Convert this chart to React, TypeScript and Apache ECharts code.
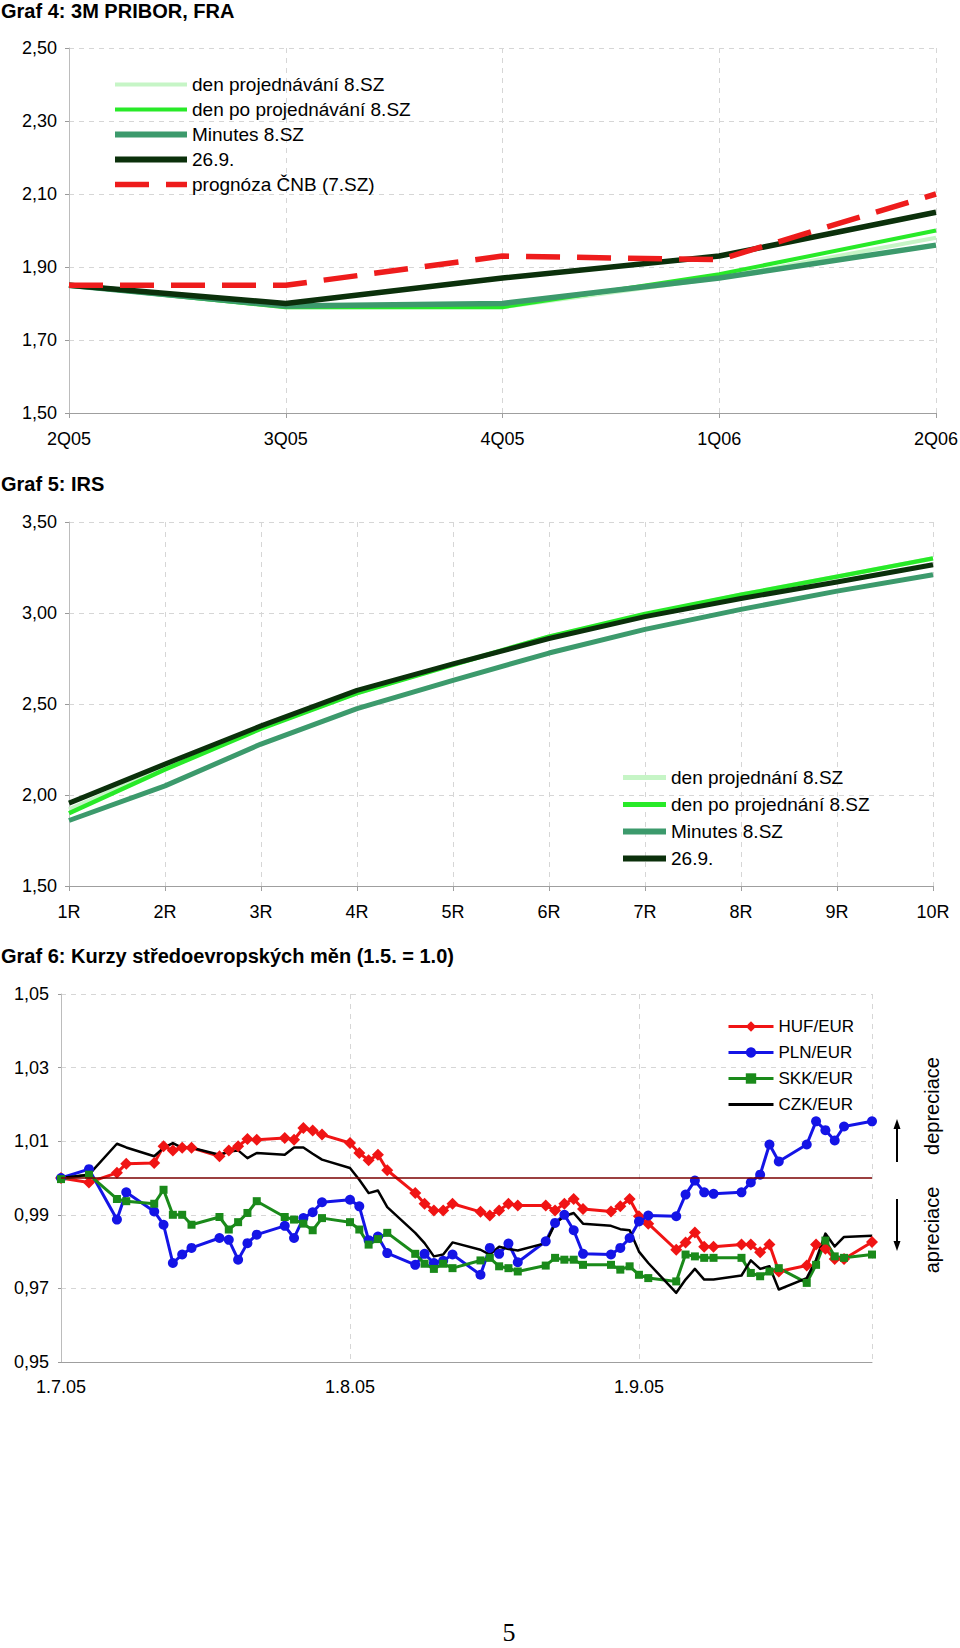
import React, { useEffect, useRef } from 'react';
import * as echarts from 'echarts';

// ---------- Graf 4: 3M PRIBOR, FRA ----------
const quarters = ['2Q05', '3Q05', '4Q05', '1Q06', '2Q06'];
const fraYTicks = [1.5, 1.7, 1.9, 2.1, 2.3, 2.5];
const fraDenProjednavani = [1.85, 1.79, 1.79, 1.87, 1.98];
const fraDenPo = [1.85, 1.79, 1.79, 1.88, 2.0];
const fraMinutes = [1.85, 1.793, 1.8, 1.87, 1.96];
const fra269 = [1.85, 1.8, 1.87, 1.93, 2.05];
const fraPrognoza = [1.85, 1.85, 1.93, 1.92, 2.1];

// ---------- Graf 5: IRS ----------
const tenors = ['1R', '2R', '3R', '4R', '5R', '6R', '7R', '8R', '9R', '10R'];
const irsYTicks = [1.5, 2.0, 2.5, 3.0, 3.5];
const irsDenProjednani = [1.92, 2.15, 2.37, 2.56, 2.72, 2.87, 2.99, 3.1, 3.2, 3.3];
const irsDenPo = [1.9, 2.14, 2.365, 2.56, 2.715, 2.87, 2.995, 3.1, 3.2, 3.3];
const irsMinutes = [1.86, 2.05, 2.28, 2.475, 2.63, 2.78, 2.91, 3.02, 3.12, 3.21];
const irs269 = [1.955, 2.17, 2.38, 2.575, 2.72, 2.86, 2.98, 3.08, 3.17, 3.265];

// ---------- Graf 6: Kurzy středoevropských měn ----------
const fxYTicks = [0.95, 0.97, 0.99, 1.01, 1.03, 1.05];
const fxDates = [
  '2005-07-01', '2005-07-04', '2005-07-07', '2005-07-08', '2005-07-11', '2005-07-12', '2005-07-13', '2005-07-14', '2005-07-15',
  '2005-07-18', '2005-07-19', '2005-07-20', '2005-07-21', '2005-07-22', '2005-07-25', '2005-07-26', '2005-07-27', '2005-07-28', '2005-07-29',
  '2005-08-01', '2005-08-02', '2005-08-03', '2005-08-04', '2005-08-05', '2005-08-08', '2005-08-09', '2005-08-10', '2005-08-11', '2005-08-12',
  '2005-08-15', '2005-08-16', '2005-08-17', '2005-08-18', '2005-08-19', '2005-08-22', '2005-08-23', '2005-08-24', '2005-08-25', '2005-08-26',
  '2005-08-29', '2005-08-30', '2005-08-31', '2005-09-01', '2005-09-02', '2005-09-05', '2005-09-06', '2005-09-07', '2005-09-08', '2005-09-09',
  '2005-09-12', '2005-09-13', '2005-09-14', '2005-09-15', '2005-09-16', '2005-09-19', '2005-09-20', '2005-09-21', '2005-09-22', '2005-09-23',
  '2005-09-26',
];
const hufEur = [
  1.0, 0.9988, 1.0014, 1.0039, 1.0041, 1.0086, 1.0075, 1.0082, 1.0082, 1.0059,
  1.0075, 1.0086, 1.0106, 1.0104, 1.0109, 1.0104, 1.0136, 1.0129, 1.0118, 1.0095,
  1.0068, 1.0048, 1.0063, 1.0021, 0.9959, 0.993, 0.9912, 0.9912, 0.993, 0.9908,
  0.9898, 0.9912, 0.993, 0.9925, 0.9925, 0.9912, 0.993, 0.9943, 0.9916, 0.9909,
  0.9923, 0.9943, 0.9896, 0.9876, 0.9805, 0.9825, 0.9852, 0.9813, 0.9813, 0.9819,
  0.9819, 0.9798, 0.9819, 0.9746, 0.9762, 0.9819, 0.9808, 0.978, 0.978, 0.9826,
];
const plnEur = [
  1.0, 1.0024, 0.9887, 0.9961, 0.9909, 0.9873, 0.9769, 0.9792, 0.981, 0.9837,
  0.9832, 0.9778, 0.9823, 0.9846, 0.987, 0.9837, 0.9891, 0.9907, 0.9934, 0.9941,
  0.9923, 0.9831, 0.9841, 0.9796, 0.9764, 0.9794, 0.9769, 0.9775, 0.9792, 0.9737,
  0.981, 0.9794, 0.9822, 0.9771, 0.9828, 0.9878, 0.99, 0.9858, 0.9794, 0.9792,
  0.981, 0.9837, 0.9882, 0.9898, 0.9896, 0.9955, 0.9993, 0.9961, 0.9957, 0.9961,
  0.9988, 1.0009, 1.0091, 1.0045, 1.0091, 1.0154, 1.013, 1.0102, 1.014, 1.0154,
];
const skkEur = [
  0.9997, 1.0009, 0.9943, 0.9937, 0.993, 0.9968, 0.99, 0.99, 0.9873, 0.9894,
  0.986, 0.988, 0.9905, 0.9937, 0.9894, 0.9887, 0.9876, 0.9858, 0.9891, 0.988,
  0.986, 0.9819, 0.9834, 0.9851, 0.9794, 0.9767, 0.9753, 0.9767, 0.9755, 0.9776,
  0.9783, 0.976, 0.9755, 0.9746, 0.9762, 0.9783, 0.9778, 0.9778, 0.9764, 0.9764,
  0.9751, 0.976, 0.9737, 0.9728, 0.9719, 0.9792, 0.9787, 0.9783, 0.9783, 0.9783,
  0.9742, 0.9733, 0.9746, 0.9755, 0.9715, 0.9764, 0.983, 0.9787, 0.9783, 0.9792,
];
const czkEur = [
  1.0, 1.0009, 1.0093, 1.0083, 1.0059, 1.0082, 1.0095, 1.0082, 1.0082, 1.0063,
  1.0072, 1.0075, 1.0054, 1.0068, 1.0063, 1.0083, 1.0083, 1.0066, 1.005, 1.0027,
  0.9995, 0.9959, 0.9966, 0.9921, 0.9851, 0.9823, 0.9787, 0.9792, 0.9825, 0.9805,
  0.9792, 0.9813, 0.9807, 0.9803, 0.9823, 0.9876, 0.9896, 0.9905, 0.9876, 0.987,
  0.9861, 0.9858, 0.98, 0.9769, 0.9688, 0.9724, 0.9753, 0.9724, 0.9724, 0.9735,
  0.9776, 0.9753, 0.976, 0.9697, 0.9728, 0.9778, 0.9849, 0.9814, 0.984, 0.9843,
];
const fxBaseline = 1.0;

// ---------- helpers ----------
const FONT = 'Liberation Sans, Arial, sans-serif';
const DAY = 86400000;
const startMs = Date.UTC(2005, 6, 1);
const dayOf = (s: string) => {
  const [y, m, d] = s.split('-').map(Number);
  return Math.round((Date.UTC(y, m - 1, d) - startMs) / DAY);
};
const comma2 = (v: number) => v.toFixed(2).replace('.', ',');
const dashedSplit = { show: true, lineStyle: { color: '#d6d6d6', type: [5, 5] as any, width: 1 } };
const gridBase = { containLabel: false, outerBoundsMode: 'none' } as any;

const valueY = (ticks: number[], labelSize: number) => ({
  type: 'value',
  min: ticks[0],
  max: ticks[ticks.length - 1],
  interval: ticks[1] - ticks[0],
  axisLine: { show: true, lineStyle: { color: '#bcbcbc', width: 1 } },
  axisTick: { show: true, length: 4, lineStyle: { color: '#9a9a9a' } },
  axisLabel: { color: '#000', fontFamily: FONT, fontSize: labelSize, margin: 12, formatter: comma2 },
  splitLine: dashedSplit,
});

const catX = (data: string[]) => ({
  type: 'category',
  data,
  boundaryGap: false,
  axisLine: { show: true, lineStyle: { color: '#9f9f9f', width: 1 } },
  axisTick: { show: true, length: 5, lineStyle: { color: '#9f9f9f' } },
  axisLabel: { color: '#000', fontFamily: FONT, fontSize: 18, margin: 17 },
  splitLine: dashedSplit,
});

const title = (text: string, y: number) => ({
  type: 'text',
  x: 1,
  y,
  style: { text, font: `bold 20px ${FONT}`, fill: '#000', align: 'left', verticalAlign: 'middle', textAlign: 'left', textVerticalAlign: 'middle' },
});

const C_LIGHT = '#c6f5c6';
const C_BRIGHT = '#28ea28';
const C_MIN = '#3c9a6c';
const C_DARK = '#0b300b';
const C_RED = '#ee1c1c';
const RED_DASH = [34, 17];

const lineS = (name: string, data: number[], color: string, width: number, extra: any = {}) => ({
  type: 'line',
  name,
  data,
  symbol: 'none',
  smooth: false,
  lineStyle: { color, width, cap: 'butt', join: 'round', ...(extra.lineStyle || {}) },
  itemStyle: { color },
  emphasis: { disabled: true },
});

const legItem = (name: string, color: string, width: number, type: any = 'solid') => ({
  name,
  itemStyle: { opacity: 0 },
  lineStyle: { color, width, type, cap: 'butt' },
});

const optionA: any = {
  animation: false,
  backgroundColor: '#fff',
  grid: { ...gridBase, left: 69, top: 48, width: 867, height: 365 },
  xAxis: catX(quarters),
  yAxis: valueY(fraYTicks, 18),
  legend: {
    orient: 'vertical',
    left: 112,
    top: 75,
    padding: 0,
    itemWidth: 72,
    itemHeight: 14,
    itemGap: 6,
    itemStyle: { opacity: 0 },
    textStyle: { fontSize: 19, fontFamily: FONT, color: '#000', lineHeight: 19 },
    data: [
      legItem('den projednávání 8.SZ', C_LIGHT, 4),
      legItem('den po projednávání 8.SZ', C_BRIGHT, 4),
      legItem('Minutes 8.SZ', C_MIN, 6),
      legItem('26.9.', C_DARK, 6),
      legItem('prognóza ČNB (7.SZ)', C_RED, 5.5, RED_DASH),
    ],
  },
  series: [
    lineS('den projednávání 8.SZ', fraDenProjednavani, C_LIGHT, 4),
    lineS('den po projednávání 8.SZ', fraDenPo, C_BRIGHT, 4),
    lineS('Minutes 8.SZ', fraMinutes, C_MIN, 5.5),
    lineS('26.9.', fra269, C_DARK, 5.5),
    lineS('prognóza ČNB (7.SZ)', fraPrognoza, C_RED, 5.5, { lineStyle: { type: RED_DASH } }),
  ],
  graphic: [title('Graf 4: 3M PRIBOR, FRA', 11)],
};

const optionB: any = {
  animation: false,
  backgroundColor: '#fff',
  grid: { ...gridBase, left: 69, top: 62, width: 864, height: 364 },
  xAxis: catX(tenors),
  yAxis: valueY(irsYTicks, 18),
  legend: {
    orient: 'vertical',
    left: 620,
    top: 308,
    padding: 0,
    itemWidth: 43,
    itemHeight: 14,
    itemGap: 8,
    itemStyle: { opacity: 0 },
    textStyle: { fontSize: 19, fontFamily: FONT, color: '#000', lineHeight: 19 },
    data: [
      legItem('den projednání 8.SZ', C_LIGHT, 5),
      legItem('den po projednání 8.SZ', C_BRIGHT, 5),
      legItem('Minutes 8.SZ', C_MIN, 6),
      legItem('26.9.', C_DARK, 6),
    ],
  },
  series: [
    lineS('den projednání 8.SZ', irsDenProjednani, C_LIGHT, 4.5),
    lineS('den po projednání 8.SZ', irsDenPo, C_BRIGHT, 4.5),
    lineS('Minutes 8.SZ', irsMinutes, C_MIN, 5),
    lineS('26.9.', irs269, C_DARK, 5),
  ],
  graphic: [title('Graf 5: IRS', 24)],
};

const fxSeries = (name: string, vals: number[], color: string, symbol: string, size: number, width: number, extra: any = {}) => ({
  type: 'line',
  name,
  data: fxDates.map((d, i) => [dayOf(d), vals[i]]),
  symbol,
  symbolSize: size,
  showSymbol: symbol !== 'none',
  showAllSymbol: true,
  lineStyle: { color, width, join: 'round' },
  itemStyle: { color, borderWidth: 0 },
  emphasis: { disabled: true },
  ...extra,
});

const lastDay = dayOf(fxDates[fxDates.length - 1]);

const C_HUF = '#f01414';
const C_PLN = '#1414e6';
const C_SKK = '#1a8a1a';
const C_CZK = '#000000';

const optionC: any = {
  animation: false,
  backgroundColor: '#fff',
  grid: { ...gridBase, left: 61, top: 64, width: 811, height: 368 },
  xAxis: {
    type: 'value',
    min: 0,
    max: lastDay,
    interval: 31,
    axisLine: { show: true, lineStyle: { color: '#9f9f9f', width: 1 } },
    axisTick: { show: false },
    axisLabel: {
      color: '#000',
      fontFamily: FONT,
      fontSize: 18,
      margin: 16,
      showMaxLabel: false,
      formatter: (v: number) => {
        const dt = new Date(startMs + Math.round(v) * DAY);
        if (dt.getUTCDate() !== 1) return '';
        return `${dt.getUTCDate()}.${dt.getUTCMonth() + 1}.05`;
      },
    },
    splitLine: dashedSplit,
  },
  yAxis: { ...valueY(fxYTicks, 18), axisTick: { show: true, length: 3, lineStyle: { color: '#9a9a9a' } } },
  legend: {
    orient: 'vertical',
    left: 727,
    top: 88,
    padding: 0,
    itemWidth: 45,
    itemHeight: 13,
    itemGap: 9,
    textStyle: { fontSize: 17, fontFamily: FONT, color: '#000', lineHeight: 17 },
    data: [
      { name: 'HUF/EUR', lineStyle: { color: C_HUF, width: 3 } },
      { name: 'PLN/EUR', lineStyle: { color: C_PLN, width: 3 } },
      { name: 'SKK/EUR', lineStyle: { color: C_SKK, width: 3 } },
      { name: 'CZK/EUR', itemStyle: { opacity: 0 }, lineStyle: { color: C_CZK, width: 3 } },
    ],
  },
  series: [
    fxSeries('HUF/EUR', hufEur, C_HUF, 'diamond', 12, 3, {
      markLine: {
        silent: true,
        symbol: 'none',
        label: { show: false },
        lineStyle: { color: '#7a0000', width: 1.5, type: 'solid' },
        emphasis: { disabled: true },
        data: [{ yAxis: fxBaseline }],
      },
    }),
    fxSeries('PLN/EUR', plnEur, C_PLN, 'circle', 10, 3),
    fxSeries('SKK/EUR', skkEur, C_SKK, 'rect', 8, 3),
    fxSeries('CZK/EUR', czkEur, C_CZK, 'none', 0, 2.5),
  ],
  graphic: [
    title('Graf 6: Kurzy středoevropských měn (1.5. = 1.0)', 26),
    { type: 'line', shape: { x1: 897, y1: 232, x2: 897, y2: 196 }, style: { stroke: '#000', lineWidth: 2 } },
    { type: 'polygon', shape: { points: [[897, 189], [893.5, 199], [900.5, 199]] }, style: { fill: '#000' } },
    { type: 'line', shape: { x1: 897, y1: 269, x2: 897, y2: 314 }, style: { stroke: '#000', lineWidth: 2 } },
    { type: 'polygon', shape: { points: [[897, 321], [893.5, 311], [900.5, 311]] }, style: { fill: '#000' } },
    {
      type: 'text', x: 932, y: 176, rotation: Math.PI / 2,
      style: { text: 'depreciace', font: `20px ${FONT}`, fill: '#000', align: 'center', verticalAlign: 'middle', textAlign: 'center', textVerticalAlign: 'middle' },
    },
    {
      type: 'text', x: 932, y: 300, rotation: Math.PI / 2,
      style: { text: 'apreciace', font: `20px ${FONT}`, fill: '#000', align: 'center', verticalAlign: 'middle', textAlign: 'center', textVerticalAlign: 'middle' },
    },
    {
      type: 'text', x: 509, y: 702,
      style: { text: '5', font: '26px Liberation Serif, serif', fill: '#000', align: 'center', verticalAlign: 'middle', textAlign: 'center', textVerticalAlign: 'middle' },
    },
  ],
};

export default function App() {
  const aRef = useRef<HTMLDivElement>(null);
  const bRef = useRef<HTMLDivElement>(null);
  const cRef = useRef<HTMLDivElement>(null);

  useEffect(() => {
    document.body.style.margin = '0';
    const a = echarts.init(aRef.current!, null, { renderer: 'svg' });
    const b = echarts.init(bRef.current!, null, { renderer: 'svg' });
    const c = echarts.init(cRef.current!, null, { renderer: 'svg' });
    a.setOption(optionA);
    b.setOption(optionB);
    c.setOption(optionC);
    return () => {
      a.dispose();
      b.dispose();
      c.dispose();
    };
  }, []);

  return (
    <div style={{ position: 'absolute', left: 0, top: 0, width: 960, height: 1648, background: '#fff', overflow: 'hidden' }}>
      <div ref={aRef} style={{ position: 'absolute', left: 0, top: 0, width: 960, height: 460 }} />
      <div ref={bRef} style={{ position: 'absolute', left: 0, top: 460, width: 960, height: 470 }} />
      <div ref={cRef} style={{ position: 'absolute', left: 0, top: 930, width: 960, height: 718 }} />
    </div>
  );
}
